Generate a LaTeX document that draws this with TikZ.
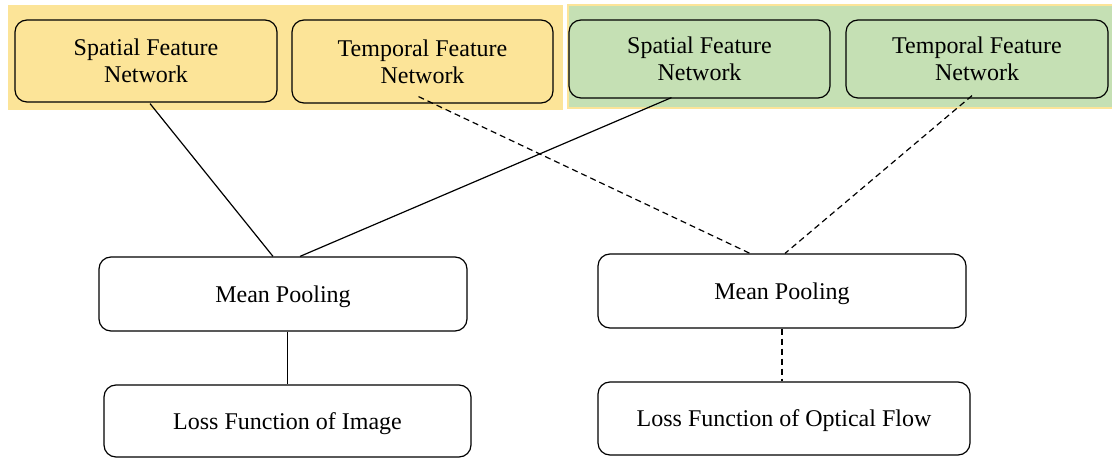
\documentclass[tikz,border=0pt]{standalone}
\usepackage{fontspec}
\setmainfont{Liberation Serif}
\usetikzlibrary{calc}
\definecolor{panelyellow}{RGB}{252,228,152}
\definecolor{panelgreen}{RGB}{197,224,180}
\tikzset{
  netbox/.style={draw=black, line width=0.6pt, rounded corners=6pt, align=center,
    font=\fontsize{12}{13.5}\selectfont, inner sep=0pt},
  plainbox/.style={draw=black, line width=0.6pt, rounded corners=6pt, fill=white,
    font=\fontsize{12}{14}\selectfont, inner sep=0pt, text depth=0pt},
  link/.style={line width=0.6pt},
  dlink/.style={line width=0.6pt, dash pattern=on 3pt off 2pt},
}
\begin{document}
\begin{tikzpicture}[x=0.5pt, y=-0.5pt]
\useasboundingbox (0,0) rectangle (1112,459);
% panels
\fill[panelyellow] (8,5) rectangle (563,110);
\filldraw[fill=panelgreen, draw=panelyellow, line width=1pt] (567.5,5) rectangle (1113,108);
% top boxes
\node[netbox, fill=panelyellow, minimum width=131pt, minimum height=41pt] (sfl) at (146,61) {Spatial Feature\\Network};
\node[netbox, fill=panelyellow, minimum width=130.5pt, minimum height=41.5pt] (tfl) at (422.5,61.5) {Temporal Feature\\Network};
\node[netbox, fill=panelgreen, minimum width=130.5pt, minimum height=39pt] (sfr) at (699.5,59) {Spatial Feature\\Network};
\node[netbox, fill=panelgreen, minimum width=131pt, minimum height=39pt] (tfr) at (977,59) {Temporal Feature\\Network};
% pooling
\node[plainbox, minimum width=184pt, minimum height=37pt] (mpl) at (283,294) {Mean Pooling};
\node[plainbox, minimum width=184pt, minimum height=37pt] (mpr) at (782,291) {Mean Pooling};
% loss
\node[plainbox, minimum width=183.5pt, minimum height=36pt] (lfl) at (287.5,421) {Loss Function of Image};
\node[plainbox, minimum width=186pt, minimum height=36.5pt] (lfr) at (784,418.5) {Loss Function of Optical Flow};
% connectors
\draw[link] ($(sfl.south)+(4,1)$) -- ($(mpl.north)+(-10,0)$);
\draw[link] ($(sfr.south)+(-28,-1)$) -- ($(mpl.north)+(17,0)$);
\draw[dlink] ($(tfl.south)+(-4,-7)$) -- ($(mpr.north)+(-32,0)$);
\draw[dlink] ($(tfr.south)+(-5,-3)$) -- ($(mpr.north)+(3,0)$);
\draw[link] (lfl.north |- mpl.south) -- (lfl.north);
\draw[dlink] (mpr.south) -- (mpr.south |- lfr.north);
\end{tikzpicture}
\end{document}
